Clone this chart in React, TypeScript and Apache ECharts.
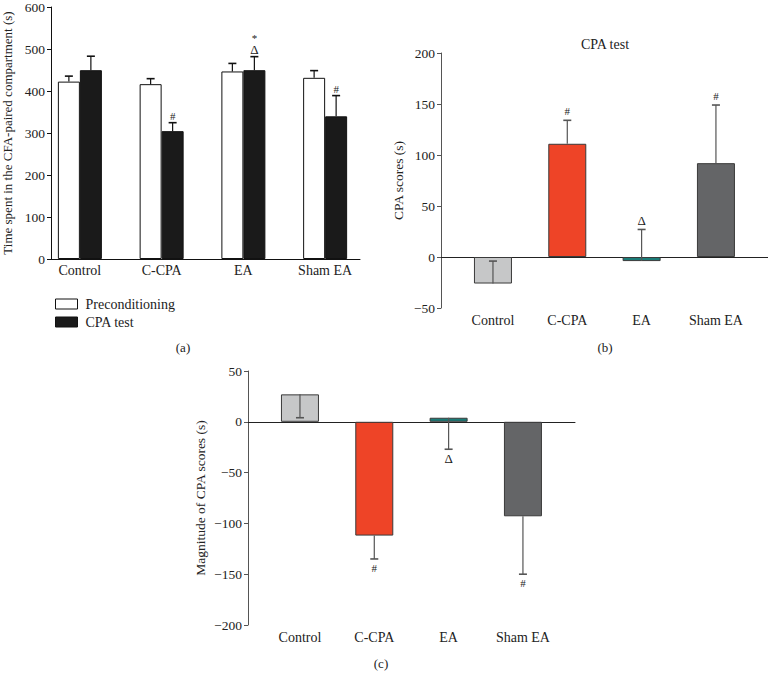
import React, { useEffect, useRef } from 'react';
import * as echarts from 'echarts';

// ---------- data ----------
const categories = ['Control', 'C-CPA', 'EA', 'Sham EA'];

// panel (a): time spent in the CFA-paired compartment (s)
const preconditioningMean = [419, 413, 443, 428];
const preconditioningSD = [13, 13, 19, 17];
const cpaTestMean = [446, 302, 446, 337];
const cpaTestSD = [33, 20, 32, 49];
const cpaTestMarks = ['', '#', 'Δ', '#'];
const cpaTestMarksTop = ['', '', '*', ''];

// panel (b): CPA scores (s)
const scoreMean = [-26, 111, -4, 92];
const scoreSD = [22, 23, 31, 57];
const scoreMarks = ['', '#', 'Δ', '#'];

// panel (c): magnitude of CPA scores (s)
const magnitudeMean = [27, -112, 4, -93];
const magnitudeSD = [23, 23, 31, 57];
const magnitudeMarks = ['', '#', 'Δ', '#'];

// ---------- styles ----------
const FONT = 'Liberation Serif';
const groupColors = ['#c6c7c8', '#ee4427', '#1b7c78', '#646567'];

function errorSeries(
  axisIdx: number,
  means: number[],
  sds: number[],
  dir: number,
  offset: number,
  color: string,
  marks: string[],
  marksTop?: string[],
  markGap = 8
) {
  return {
    type: 'custom',
    xAxisIndex: axisIdx,
    yAxisIndex: axisIdx,
    z: 5,
    clip: false,
    silent: true,
    data: means.map((m, i) => [i, m, m + dir * sds[i]]),
    renderItem: (params: any, api: any) => {
      const i = api.value(0);
      const p0 = api.coord([i, api.value(1)]);
      const p1 = api.coord([i, api.value(2)]);
      const x = p0[0] + offset;
      const children: any[] = [
        { type: 'line', shape: { x1: x, y1: p0[1], x2: x, y2: p1[1] }, style: { stroke: color, lineWidth: 1.2 } },
        { type: 'line', shape: { x1: x - 4, y1: p1[1], x2: x + 4, y2: p1[1] }, style: { stroke: color, lineWidth: 1.6 } },
      ];
      const mk = marks[params.dataIndex];
      if (mk) {
        const y = dir > 0 ? p1[1] - markGap : p1[1] + markGap;
        children.push({
          type: 'text',
          style: {
            x, y, text: mk, align: 'center', verticalAlign: 'middle',
            fontFamily: FONT, fontSize: mk === 'Δ' ? 13 : 11, fill: '#222',
          },
        });
        const mt = marksTop ? marksTop[params.dataIndex] : '';
        if (mt) {
          children.push({
            type: 'text',
            style: {
              x, y: y - 12, text: mt, align: 'center', verticalAlign: 'middle',
              fontFamily: FONT, fontSize: 11, fill: '#222',
            },
          });
        }
      }
      return { type: 'group', children };
    },
  };
}

const minusFmt = (v: number) => String(v).replace('-', '−');

export default function App() {
  const ref = useRef<HTMLDivElement>(null);

  useEffect(() => {
    if (!ref.current) return;
    const chart = echarts.init(ref.current, undefined, { renderer: 'svg' });

    const frameX = (gridIndex: number, color: string) => ({
      type: 'value', gridIndex, min: 0, max: 1,
      axisLine: { show: true, onZero: true, lineStyle: { color, width: 1 } },
      axisTick: { show: false }, axisLabel: { show: false }, splitLine: { show: false },
    });
    const barsX = (gridIndex: number, margin: number, fontSize: number) => ({
      type: 'category', gridIndex, data: categories,
      axisLine: { show: false, onZero: false }, axisTick: { show: false },
      axisLabel: { margin, fontFamily: FONT, fontSize, color: '#222' },
      splitLine: { show: false },
    });
    const frameY = (gridIndex: number, min: number, max: number, interval: number, name: string, nameGap: number, color: string, fontSize: number, nameSize: number) => ({
      type: 'value', gridIndex, min, max, interval, name, nameLocation: 'middle', nameGap,
      nameTextStyle: { fontFamily: FONT, fontSize: nameSize, color: '#222' },
      axisLine: { show: true, lineStyle: { color, width: 1 } },
      axisTick: { show: true, length: 4, lineStyle: { color } },
      axisLabel: { margin: 6, fontFamily: FONT, fontSize, color: '#222', formatter: minusFmt },
      splitLine: { show: false },
    });
    const barsY = (gridIndex: number, min: number, max: number) => ({
      type: 'value', gridIndex, min, max, show: false, splitLine: { show: false },
    });

    const option: any = {
      animation: false,
      backgroundColor: '#fff',
      grid: [
        { left: 51, top: 5, width: 309, height: 254 },
        { left: 39, top: 5, width: 327, height: 254 },
        { left: 441, top: 53, width: 327, height: 255 },
        { left: 455.8, top: 53, width: 297.3, height: 255 },
        { left: 248, top: 371, width: 327, height: 254 },
        { left: 262.8, top: 371, width: 297.3, height: 254 },
      ],
      xAxis: [
        frameX(0, '#111'),
        barsX(1, 4, 14),
        frameX(2, '#222'),
        barsX(3, 5, 14),
        frameX(4, '#222'),
        barsX(5, 5, 14),
      ],
      yAxis: [
        frameY(0, 0, 600, 100, 'Time spent in the CFA-paired compartment (s)', 37, '#111', 13.5, 13),
        barsY(1, 0, 600),
        frameY(2, -50, 200, 50, 'CPA scores (s)', 36, '#555', 13.5, 13.5),
        barsY(3, -50, 200),
        frameY(4, -200, 50, 50, 'Magnitude of CPA scores (s)', 41, '#555', 13.5, 13.5),
        barsY(5, -200, 50),
      ],
      legend: {
        orient: 'vertical', left: 50, top: 292, itemWidth: 22, itemHeight: 10, itemGap: 4,
        icon: 'rect', selectedMode: false,
        textStyle: { fontFamily: FONT, fontSize: 14, color: '#222', padding: [0, 0, 0, 3] },
        data: [
          { name: 'Preconditioning', itemStyle: { color: '#fff', borderColor: '#111', borderWidth: 1 } },
          { name: 'CPA test', itemStyle: { color: '#1a1a1a', borderColor: '#111', borderWidth: 1 } },
        ],
      },
      graphic: [
        { type: 'text', x: 605, y: 44, style: { text: 'CPA test', align: 'center', verticalAlign: 'middle', fontFamily: FONT, fontSize: 14, fill: '#222' } },
        { type: 'text', x: 183, y: 347, style: { text: '(a)', align: 'center', verticalAlign: 'middle', fontFamily: FONT, fontSize: 13, fill: '#222' } },
        { type: 'text', x: 605, y: 347, style: { text: '(b)', align: 'center', verticalAlign: 'middle', fontFamily: FONT, fontSize: 13, fill: '#222' } },
        { type: 'text', x: 381, y: 663, style: { text: '(c)', align: 'center', verticalAlign: 'middle', fontFamily: FONT, fontSize: 13, fill: '#222' } },
      ],
      series: [
        {
          name: 'Preconditioning', type: 'bar', xAxisIndex: 1, yAxisIndex: 1,
          barWidth: 22, barGap: '0%', data: preconditioningMean,
          itemStyle: { color: '#fff', borderColor: '#111', borderWidth: 1 },
        },
        {
          name: 'CPA test', type: 'bar', xAxisIndex: 1, yAxisIndex: 1,
          barWidth: 22, barGap: '0%', data: cpaTestMean,
          itemStyle: { color: '#1a1a1a', borderColor: '#111', borderWidth: 1 },
        },
        errorSeries(1, preconditioningMean, preconditioningSD, 1, -11, '#111', ['', '', '', '']),
        errorSeries(1, cpaTestMean, cpaTestSD, 1, 11, '#111', cpaTestMarks, cpaTestMarksTop, 7),
        {
          name: 'CPA scores', type: 'bar', xAxisIndex: 3, yAxisIndex: 3, barWidth: 38,
          data: scoreMean.map((v, i) => ({ value: v, itemStyle: { color: groupColors[i] } })),
          itemStyle: { borderColor: '#3a3a3a', borderWidth: 1 },
        },
        errorSeries(3, scoreMean, scoreSD, 1, 0, '#555', scoreMarks, undefined, 9),
        {
          name: 'Magnitude', type: 'bar', xAxisIndex: 5, yAxisIndex: 5, barWidth: 38,
          data: magnitudeMean.map((v, i) => ({ value: v, itemStyle: { color: groupColors[i] } })),
          itemStyle: { borderColor: '#3a3a3a', borderWidth: 1 },
        },
        errorSeries(5, magnitudeMean, magnitudeSD, -1, 0, '#555', magnitudeMarks, undefined, 9),
      ],
    };
    chart.setOption(option);
    return () => chart.dispose();
  }, []);

  return (
    <div
      ref={ref}
      style={{ position: 'absolute', left: 0, top: 0, width: 768, height: 682, background: '#fff' }}
    />
  );
}
